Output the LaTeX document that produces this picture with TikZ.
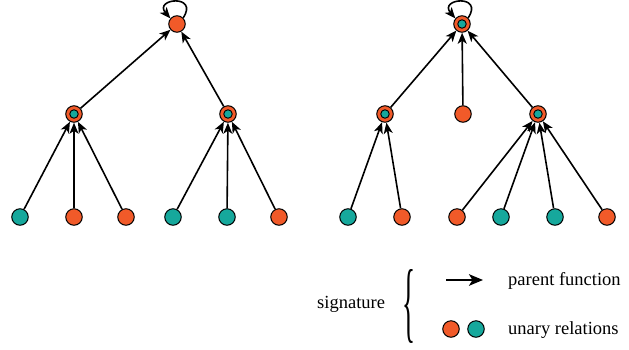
\documentclass[tikz,border=0pt]{standalone}
\usepackage{fontspec}
\usepackage{graphicx}
\setmainfont{Liberation Serif}
\usetikzlibrary{arrows.meta}
\definecolor{orng}{RGB}{241,90,41}
\definecolor{teal2}{RGB}{22,168,156}
\begin{document}
\begin{tikzpicture}[x=1pt,y=-1pt,
  lf/.style={circle,draw=black,line width=1pt,minimum size=16.5pt,inner sep=0pt},
  ob/.style={lf,fill=orng},
  tb/.style={lf,fill=teal2},
  core/.style={circle,draw=black,line width=0.9pt,fill=teal2,minimum size=8.5pt,inner sep=0pt},
  arr/.style={-{Stealth[length=11pt,width=9pt,inset=3pt]},line width=1.6pt},
  bigarr/.style={-{Stealth[length=14pt,width=11.5pt,inset=3.5pt]},line width=2.1pt},
  lbl/.style={font=\fontsize{18.5}{21}\selectfont,anchor=west,inner sep=0pt}]
\useasboundingbox (0,0) rectangle (629,349);
% left tree
\node[ob] (L) at (177,24) {};
\node[ob] (L1) at (74,114) {};
\node[core] (L1c) at (L1) {};
\node[ob] (L2) at (228,114) {};
\node[core] (L2c) at (L2) {};
\node[tb] (a1) at (20,217) {};
\node[ob] (a2) at (74,217) {};
\node[ob] (a3) at (126,217) {};
\node[tb] (a4) at (173,217) {};
\node[tb] (a5) at (227,217) {};
\node[ob] (a6) at (279,217) {};
\foreach \c in {a1,a2,a3} \draw[arr] (\c) -- (L1);
\foreach \c in {a4,a5,a6} \draw[arr] (\c) -- (L2);
\draw[arr] (L1) -- (L);
\draw[arr] (L2) -- (L);
\draw[arr] (L.45) .. controls +(16,-24) and +(-17,-20) .. (L.140);
% right tree
\node[ob] (R) at (462,24) {};
\node[core] (Rc) at (R) {};
\node[ob] (R1) at (385,114) {};
\node[core] (R1c) at (R1) {};
\node[ob] (R2) at (463,114) {};
\node[ob] (R3) at (538,114) {};
\node[core] (R3c) at (R3) {};
\node[tb] (b1) at (348,217) {};
\node[ob] (b2) at (402,217) {};
\node[ob] (b3) at (457,217) {};
\node[tb] (b4) at (501,217) {};
\node[tb] (b5) at (555,217) {};
\node[ob] (b6) at (607,217) {};
\foreach \c in {b1,b2} \draw[arr] (\c) -- (R1);
\foreach \c in {b3,b4,b5,b6} \draw[arr] (\c) -- (R3);
\draw[arr] (R1) -- (R);
\draw[arr] (R2) -- (R);
\draw[arr] (R3) -- (R);
\draw[arr] (R.45) .. controls +(16,-24) and +(-17,-20) .. (R.140);
% legend
\node[lbl] (sig) at (317,304) {signature};
\node[inner sep=0pt] (br) at (409,306) {\resizebox{13pt}{62pt}{\fontsize{20}{20}\selectfont\{}};
\coordinate (as) at (446,280);
\coordinate (ae) at (483,280);
\draw[bigarr] (as) -- (ae);
\node[lbl] (pf) at (508,281) {parent function};
\node[ob] (lo) at (451,329) {};
\node[tb] (lt) at (476,329) {};
\node[lbl] (ur) at (508,330) {unary relations};
\end{tikzpicture}
\end{document}
